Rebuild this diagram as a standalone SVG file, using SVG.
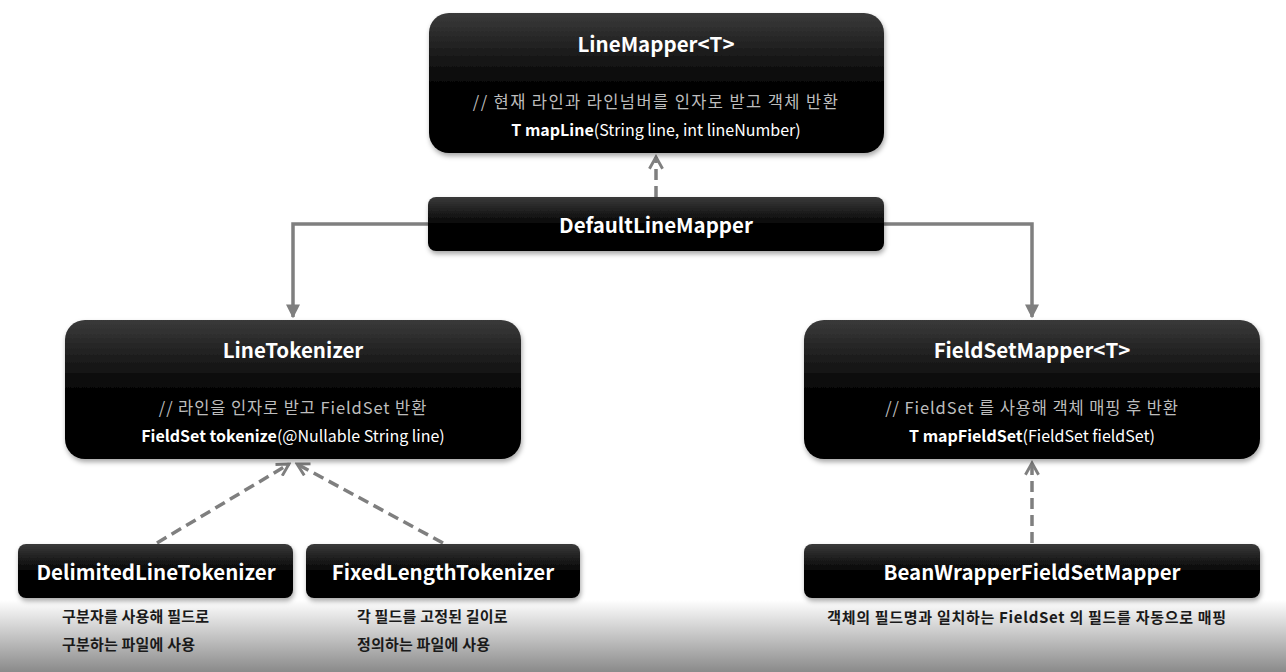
<svg xmlns="http://www.w3.org/2000/svg" width="1286" height="672" viewBox="0 0 1286 672">
<style>
.box{fill:url(#nodeGrad);filter:url(#shadow)}
.title{font-family:"Noto Sans CJK KR","Liberation Sans",sans-serif;font-weight:bold;font-size:20.5px;fill:#ffffff;text-anchor:middle}
.cmt{font-family:"Noto Sans CJK KR","Liberation Sans",sans-serif;font-size:16.5px;letter-spacing:0.9px;fill:#bdbdbd;text-anchor:middle}
.sig{font-family:"Noto Sans CJK KR","Liberation Sans",sans-serif;font-size:16px;fill:#ffffff;text-anchor:middle}
.sig tspan.b{font-weight:bold}
.note{font-family:"Noto Sans CJK KR","Liberation Sans",sans-serif;font-weight:bold;font-size:15px;letter-spacing:0.2px;fill:#1a1a1a}
.solid{stroke:#7f7f7f;stroke-width:3.5;fill:none}
.dash{stroke:#7f7f7f;stroke-width:3.5;fill:none;stroke-dasharray:11 6}
</style>
<defs>
<linearGradient id="nodeGrad" x1="0" y1="0" x2="0" y2="1">
<stop offset="0" stop-color="#3a3a3a"/>
<stop offset="0.2" stop-color="#252525"/>
<stop offset="0.5" stop-color="#050505"/>
<stop offset="1" stop-color="#000000"/>
</linearGradient>
<linearGradient id="bgGrad" x1="0" y1="0" x2="0" y2="1">
<stop offset="0" stop-color="#ffffff"/>
<stop offset="1" stop-color="#8a8a8a"/>
</linearGradient>
<filter id="shadow" x="-5%" y="-10%" width="110%" height="130%">
<feDropShadow dx="1" dy="3" stdDeviation="2.5" flood-color="#000" flood-opacity="0.35"/>
</filter>
<marker id="fill" viewBox="0 0 10 10" refX="9" refY="5" markerWidth="4" markerHeight="4" orient="auto" markerUnits="strokeWidth">
<path d="M0,0 L10,5 L0,10 Z" fill="#7f7f7f"/>
</marker>
<marker id="open" viewBox="0 0 12 12" refX="10" refY="6" markerWidth="4.5" markerHeight="4.5" orient="auto" markerUnits="strokeWidth">
<path d="M1,1 L10,6 L1,11" fill="none" stroke="#7f7f7f" stroke-width="2.2"/>
</marker>
</defs>
<rect x="0" y="0" width="1286" height="672" fill="#ffffff"/>
<rect x="0" y="600" width="1286" height="72" fill="url(#bgGrad)"/>

<g id="connectors">
<path class="dash" d="M656,197 L656,157" marker-end="url(#open)"/>
<path class="solid" d="M428,224 L293,224 L293,317" marker-end="url(#fill)"/>
<path class="solid" d="M884,224 L1032,224 L1032,317" marker-end="url(#fill)"/>
<path class="dash" d="M157,543 L289,464" marker-end="url(#open)"/>
<path class="dash" d="M443,543 L297,464" marker-end="url(#open)"/>
<path class="dash" d="M1032,543 L1032,463" marker-end="url(#open)"/>
</g>

<g id="lineMapper">
<rect class="box" x="429" y="13" width="455" height="140" rx="20"/>
<text class="title" x="656" y="52">LineMapper&lt;T&gt;</text>
<text class="cmt" x="656" y="108" style="letter-spacing:1.4px">// 현재 라인과 라인넘버를 인자로 받고 객체 반환</text>
<text class="sig" x="656" y="136"><tspan class="b">T mapLine</tspan>(String line, int lineNumber)</text>
</g>

<g id="defaultLineMapper">
<rect class="box" x="428" y="197" width="456" height="54" rx="8"/>
<text class="title" x="656" y="233">DefaultLineMapper</text>
</g>

<g id="lineTokenizer">
<rect class="box" x="65" y="320" width="456" height="139" rx="20"/>
<text class="title" x="293" y="358">LineTokenizer</text>
<text class="cmt" x="293" y="414">// 라인을 인자로 받고 FieldSet 반환</text>
<text class="sig" x="293" y="442"><tspan class="b">FieldSet tokenize</tspan>(@Nullable String line)</text>
</g>

<g id="fieldSetMapper">
<rect class="box" x="804" y="320" width="456" height="139" rx="20"/>
<text class="title" x="1032" y="358">FieldSetMapper&lt;T&gt;</text>
<text class="cmt" x="1032" y="414">// FieldSet 를 사용해 객체 매핑 후 반환</text>
<text class="sig" x="1032" y="442"><tspan class="b">T mapFieldSet</tspan>(FieldSet fieldSet)</text>
</g>

<g id="delimitedLineTokenizer">
<rect class="box" x="18" y="544" width="275" height="54" rx="8"/>
<text class="title" x="156" y="580">DelimitedLineTokenizer</text>
<text class="note" x="62" y="622">구분자를 사용해 필드로</text>
<text class="note" x="62" y="650">구분하는 파일에 사용</text>
</g>

<g id="fixedLengthTokenizer">
<rect class="box" x="306" y="544" width="274" height="54" rx="8"/>
<text class="title" x="443" y="580">FixedLengthTokenizer</text>
<text class="note" x="357" y="622">각 필드를 고정된 길이로</text>
<text class="note" x="357" y="650">정의하는 파일에 사용</text>
</g>

<g id="beanWrapperFieldSetMapper">
<rect class="box" x="804" y="544" width="456" height="54" rx="8"/>
<text class="title" x="1032" y="580">BeanWrapperFieldSetMapper</text>
<text class="note" x="1027" y="623" text-anchor="middle" style="letter-spacing:0.7px">객체의 필드명과 일치하는 FieldSet 의 필드를 자동으로 매핑</text>
</g>
</svg>
